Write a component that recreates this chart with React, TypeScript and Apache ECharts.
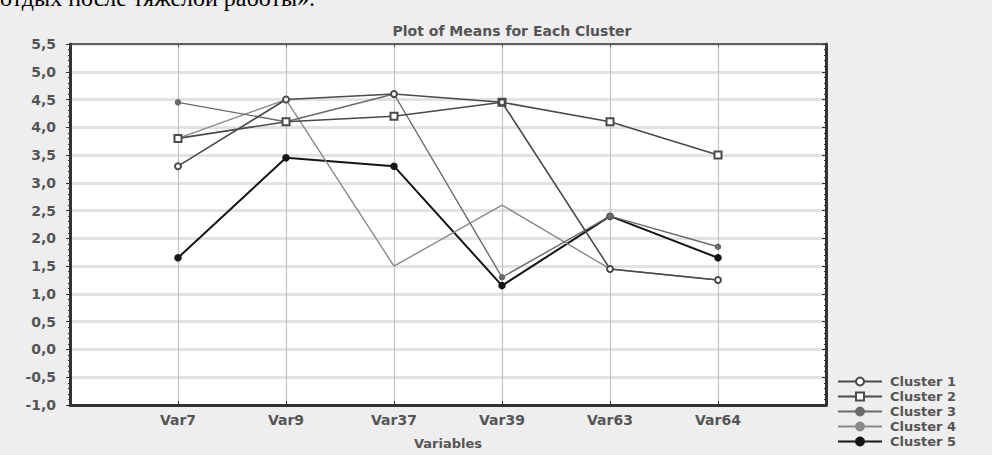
import React, { useEffect, useRef } from "react";
import * as echarts from "echarts";

const categories = ["Var7", "Var9", "Var37", "Var39", "Var63", "Var64"];
const cluster1 = [3.3, 4.5, 4.6, 4.45, 1.45, 1.25];
const cluster2 = [3.8, 4.1, 4.2, 4.45, 4.1, 3.5];
const cluster3 = [4.45, 4.1, 4.6, 1.3, 2.4, 1.85];
const cluster4 = [3.8, 4.5, 1.5, 2.6, 1.45, 1.25];
const cluster5 = [1.65, 3.45, 3.3, 1.15, 2.4, 1.65];
const seriesNames = ["Cluster 1", "Cluster 2", "Cluster 3", "Cluster 4", "Cluster 5"];
const title = "Plot of Means for Each Cluster";
const xTitle = "Variables";
const topText = "отдых после тяжелой работы».";

const FONT = "DejaVu Sans";

export default function App() {
  const ref = useRef<HTMLDivElement>(null);
  useEffect(() => {
    document.body.style.margin = "0";
    const chart = echarts.init(ref.current!, null, { renderer: "svg" });
    const axisCats = ["", ...categories, ""];
    const mk = (vals: number[]) => vals.map((v, i) => [categories[i], v]);
    const styles = [
      { color: "#4a4a4a", width: 1.6, symbol: "emptyCircle", size: 6 },
      { color: "#4a4a4a", width: 1.6, symbol: "emptyRect", size: 7 },
      { color: "#6a6a6a", width: 1.4, symbol: "circle", size: 5 },
      { color: "#8a8a8a", width: 1.4, symbol: "none", size: 0 },
      { color: "#151515", width: 2, symbol: "circle", size: 6 },
    ];
    const data = [cluster1, cluster2, cluster3, cluster4, cluster5];
    chart.setOption({
      animation: false,
      backgroundColor: "#eeeeee",
      title: {
        text: title,
        left: 507,
        top: 19,
        textAlign: "center",
        textStyle: { fontFamily: FONT, fontSize: 14, fontWeight: "bold", color: "#555" },
      },
      graphic: [
        {
          type: "text",
          left: 0,
          top: -14,
          style: { text: topText, font: "24px 'Liberation Serif', serif", fill: "#000" },
        },
      ],
      grid: {
        left: 70,
        right: 166,
        top: 44,
        bottom: 47,
        show: true,
        backgroundColor: "#ffffff",
        borderColor: "#333",
        borderWidth: 1,
      },
      legend: {
        orient: "vertical",
        left: 832,
        top: 370,
        itemGap: 2,
        itemWidth: 44,
        itemHeight: 10,
        data: seriesNames,
        textStyle: { fontFamily: FONT, fontSize: 13, fontWeight: "bold", color: "#555", padding: [0, 0, 0, 3] },
      },
      xAxis: [
        {
          type: "category",
          data: axisCats,
          boundaryGap: false,
          name: xTitle,
          nameLocation: "middle",
          nameGap: 32,
          nameTextStyle: { fontFamily: FONT, fontSize: 13, fontWeight: "bold", color: "#555" },
          axisLine: { onZero: false, lineStyle: { color: "#333", width: 3 } },
          axisTick: { inside: true, length: 4, lineStyle: { color: "#333" } },
          axisLabel: { fontFamily: FONT, fontSize: 14, fontWeight: "bold", color: "#555", margin: 8 },
          splitLine: { show: true, lineStyle: { color: "#c4c4c4", width: 1.2 } },
        },
        {
          type: "category",
          data: axisCats,
          boundaryGap: false,
          position: "top",
          axisLine: { onZero: false, lineStyle: { color: "#333", width: 1.5 } },
          axisTick: { inside: true, length: 3, lineStyle: { color: "#555" } },
          axisLabel: { show: false },
          splitLine: { show: false },
        },
      ],
      yAxis: [
        {
          type: "value",
          min: -1,
          max: 5.5,
          interval: 0.5,
          axisLine: { show: true, onZero: false, lineStyle: { color: "#333", width: 3 } },
          axisTick: { show: true, length: 4, lineStyle: { color: "#333" } },
          minorTick: { show: true, splitNumber: 5, length: 2, lineStyle: { color: "#333" } },
          axisLabel: {
            fontFamily: FONT,
            fontSize: 14,
            fontWeight: "bold",
            color: "#555",
            margin: 14,
            formatter: (v: number) => v.toFixed(1).replace(".", ","),
          },
          splitLine: { show: true, lineStyle: { color: "#e2e2e2", width: 3 } },
        },
        {
          type: "value",
          min: -1,
          max: 5.5,
          interval: 0.5,
          position: "right",
          axisLine: { show: true, onZero: false, lineStyle: { color: "#333", width: 3 } },
          axisTick: { show: true, inside: true, length: 4, lineStyle: { color: "#333" } },
          minorTick: { show: true, splitNumber: 5, length: 2, lineStyle: { color: "#333" } },
          axisLabel: { show: false },
          splitLine: { show: false },
        },
      ],
      series: data.map((vals, i) => ({
        name: seriesNames[i],
        type: "line",
        data: mk(vals),
        symbol: styles[i].symbol,
        symbolSize: styles[i].size,
        showSymbol: styles[i].symbol !== "none",
        lineStyle: { color: styles[i].color, width: styles[i].width },
        itemStyle: { color: styles[i].color, borderColor: styles[i].color, borderWidth: 1.5 },
        z: 5 - i,
      })),
    });
    return () => chart.dispose();
  }, []);
  return <div ref={ref} style={{ width: 992, height: 455 }} />;
}
